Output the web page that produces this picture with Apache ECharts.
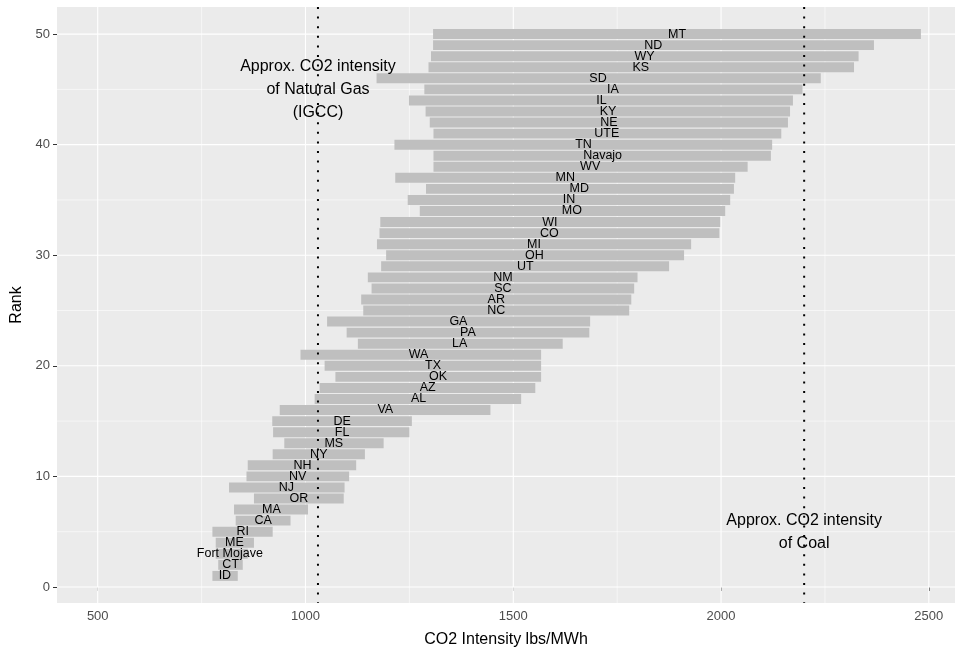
<!DOCTYPE html>
<html><head><meta charset="utf-8">
<script src="https://cdn.jsdelivr.net/npm/echarts@6/dist/echarts.min.js"></script>
<style>html,body{margin:0;padding:0;background:#fff}#c{width:956px;height:652px}</style>
</head><body><div id="c"></div>
<script>
const states = ['ID','CT','Fort Mojave','ME','RI','CA','MA','OR','NJ','NV','NH','NY','MS','FL','DE','VA','AL','AZ','OK','TX','WA','LA','PA','GA','NC','AR','SC','NM','UT','OH','MI','CO','WI','MO','IN','MD','MN','WV','Navajo','TN','UTE','NE','KY','IL','IA','SD','KS','WY','ND','MT'];
const ranks = [1,2,3,4,5,6,7,8,9,10,11,12,13,14,15,16,17,18,19,20,21,22,23,24,25,26,27,28,29,30,31,32,33,34,35,36,37,38,39,40,41,42,43,44,45,46,47,48,49,50];
const lowValues = [776,790,784,784,776,832,828,876,816,858,861,921,949,922,920,938,1022,1034,1072,1046,988,1126,1099,1052,1139,1134,1159,1150,1182,1194,1172,1178,1180,1275,1246,1290,1216,1308,1308,1214,1308,1299,1289,1249,1286,1171,1296,1302,1307,1307];
const highValues = [837,849,861,876,921,964,1006,1092,1094,1105,1122,1143,1188,1250,1256,1445,1519,1553,1567,1567,1567,1619,1683,1685,1779,1784,1791,1799,1875,1911,1928,1996,1998,2010,2022,2031,2034,2064,2120,2123,2145,2161,2166,2173,2196,2240,2320,2331,2368,2481];
const labelX = [806,820,818,829,849,898,918,984,954,981,993,1032,1068,1088,1088,1192,1272,1294,1319,1307,1272,1371,1391,1368,1459,1459,1475,1475,1529,1551,1550,1587,1588,1641,1634,1659,1625,1685,1715,1669,1725,1730,1728,1712,1740,1704,1807,1816,1837,1894];
const xTicks = [500,1000,1500,2000,2500];
const yTicks = [0,10,20,30,40,50];
const xMinor = [750,1250,1750,2250];
const yMinor = [5,15,25,35,45];
const refLines = [1030,2200];
const refLabels = ['Approx. CO2 intensity\nof Natural Gas\n(IGCC)','Approx. CO2 intensity\nof Coal'];
const refLabelY = [45,5];

const FONT = '"Liberation Sans", Arial, Helvetica, sans-serif';
const chart = echarts.init(document.getElementById('c'), null, {renderer:'canvas'});

const vGrid = xTicks.map(v=>[v,0,1]).concat(xMinor.map(v=>[v,0,0]));
const hGrid = yTicks.map(v=>[500,v,1]).concat(yMinor.map(v=>[500,v,0]));

function vLine(params, api){
  const cs = params.coordSys;
  const x = api.coord([api.value(0), 0])[0];
  const major = api.value(2) === 1;
  return {type:'line', shape:{x1:x,y1:cs.y,x2:x,y2:cs.y+cs.height},
    style:{stroke:'#ffffff', lineWidth: major?1.1:0.55}};
}
function hLine(params, api){
  const cs = params.coordSys;
  const y = api.coord([500, api.value(1)])[1];
  const major = api.value(2) === 1;
  return {type:'line', shape:{x1:cs.x,y1:y,x2:cs.x+cs.width,y2:y},
    style:{stroke:'#ffffff', lineWidth: major?1.1:0.55}};
}

const barData = ranks.map((r,i)=>[lowValues[i], highValues[i], r]);
const labelData = ranks.map((r,i)=>[labelX[i], r]);
const refData = refLines.map((v,i)=>[v, refLabelY[i]]);

chart.setOption({
  animation:false,
  backgroundColor:'#ffffff',
  grid:{left:57, right:1, top:7, bottom:49, backgroundColor:'#EBEBEB', show:true, borderWidth:0,
    containLabel:false, outerBoundsMode:'none'},
  xAxis:{type:'value', min:402, max:2563,
    name:'CO2 Intensity lbs/MWh', nameLocation:'middle', nameGap:29,
    nameTextStyle:{color:'#000', fontSize:16, fontFamily:FONT},
    axisLine:{show:false},
    axisTick:{show:true, length:4, lineStyle:{color:'#333'}, customValues:xTicks},
    axisLabel:{color:'#4D4D4D', fontSize:13, fontFamily:FONT, margin:7, customValues:xTicks,
      formatter:function(v){return String(v);}},
    splitLine:{show:false}},
  yAxis:{type:'value', min:-1.45, max:52.45,
    name:'Rank', nameLocation:'middle', nameGap:30, nameRotate:90,
    nameTextStyle:{color:'#000', fontSize:16, fontFamily:FONT},
    axisLine:{show:false},
    axisTick:{show:true, length:4, lineStyle:{color:'#333'}, customValues:yTicks},
    axisLabel:{color:'#4D4D4D', fontSize:13, fontFamily:FONT, margin:7, customValues:yTicks,
      formatter:function(v){return String(v);}},
    splitLine:{show:false}},
  series:[
    {type:'custom', z:1, silent:true, data:vGrid, renderItem:vLine, encode:{x:0,y:1}},
    {type:'custom', z:1, silent:true, data:hGrid, renderItem:hLine, encode:{x:0,y:1}},
    {type:'custom', z:2, silent:true, data:barData, encode:{x:[0,1], y:2},
      renderItem:function(params, api){
        const p1 = api.coord([api.value(0), api.value(2)+0.45]);
        const p2 = api.coord([api.value(1), api.value(2)-0.45]);
        return {type:'rect', shape:{x:p1[0], y:p1[1], width:p2[0]-p1[0], height:p2[1]-p1[1]},
          style:{fill:'#BFBFBF'}};
      }},
    {type:'custom', z:3, silent:true, data:labelData, encode:{x:0,y:1},
      renderItem:function(params, api){
        const p = api.coord([api.value(0), api.value(1)]);
        return {type:'text', x:p[0], y:p[1],
          style:{text:states[params.dataIndex], fill:'#000', fontSize:12.5, fontFamily:FONT,
            align:'center', verticalAlign:'middle'}};
      }},
    {type:'custom', z:4, silent:true, data:refData, encode:{x:0,y:1},
      renderItem:function(params, api){
        const cs = params.coordSys;
        const p = api.coord([api.value(0), api.value(1)]);
        return {type:'group', children:[
          {type:'text', x:p[0], y:p[1],
            style:{text:refLabels[params.dataIndex], fill:'#000', fontSize:16, fontFamily:FONT,
              align:'center', verticalAlign:'middle', lineHeight:23}},
          {type:'line', shape:{x1:p[0], y1:cs.y, x2:p[0], y2:cs.y+cs.height},
            style:{stroke:'#000', lineWidth:2, lineDash:[2,7.6]}}
        ]};
      }}
  ]
});
</script></body></html>
